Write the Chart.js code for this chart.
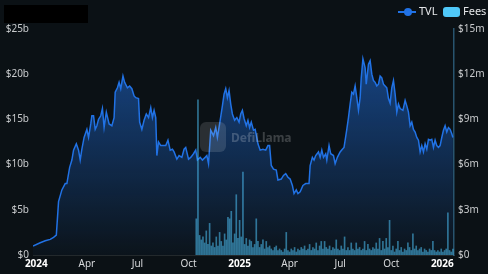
<!DOCTYPE html>
<html>
<head>
<meta charset="utf-8">
<script src="https://cdn.jsdelivr.net/npm/chart.js@4.4.1/dist/chart.umd.min.js"></script>
<style>
  html, body { margin: 0; padding: 0; background: #0b1115; }
  #wrap { position: relative; width: 488px; height: 274px; font-family: 'Noto Sans', sans-serif; }
  #title { position: absolute; left: 4px; top: 5px; width: 84px; height: 18px; background: #000; }
  .lg { position: absolute; }
  .lgtxt { position: absolute; top: 3px; font-size: 11px; color: #e4e6e8; }
  .mark { position: absolute; left: 200px; top: 122px; width: 26px; height: 30px; border-radius: 6px; background: rgba(255,255,255,0.13); }
  .marktxt { position: absolute; left: 231px; top: 129px; font-size: 12px; font-weight: bold; color: rgba(255,255,255,0.2); }
</style>
</head>
<body>
<div id="wrap">
  <canvas id="chart" width="488" height="274"></canvas>
  <div id="title"></div>
  <div class="lg" style="left:398px; top:11px; width:18px; height:2px; background:#2172e5;"></div>
  <div class="lg" style="left:404px; top:8px; width:8px; height:8px; border-radius:50%; background:#2172e5;"></div>
  <div class="lgtxt" style="left:419px;">TVL</div>
  <div class="lg" style="left:443px; top:7px; width:17px; height:10px; border-radius:3px; background:#4fc8f8;"></div>
  <div class="lgtxt" style="left:463px;">Fees</div>
  <div class="mark"></div>
  <div class="marktxt">DefiLlama</div>
</div>
<script>
// dias desde 2024-01-01
const tickDays = [0, 91, 182, 274, 366, 456, 547, 639, 731];
const tickLabels = ['2024', 'Apr', 'Jul', 'Oct', '2025', 'Apr', 'Jul', 'Oct', '2026'];
const yearTicks = [0, 366, 731];

// TVL en miles de millones ($b)
const tvlDays = [-6,7,16,25,31,36,40,46,52,55,60,64,67,72,76,79,82,86,91,94,98,100,103,106,109,112,116,119,122,126,
  131,136,140,142,146,149,152,156,159,164,168,172,176,179,184,186,190,194,198,202,206,209,212,215,217,220,224,229,233,237,
  241,245,248,253,257,262,266,269,274,278,283,287,290,295,299,304,307,310,314,319,323,326,331,335,338,341,344,347,350,353,
  357,361,365,368,371,374,378,381,384,387,391,394,399,403,408,413,417,420,423,427,432,435,441,445,449,453,457,461,464,468,
  471,475,480,485,491,493,497,500,503,508,511,514,517,521,523,527,530,535,538,542,547,551,554,559,562,565,568,571,574,577,
  580,583,585,588,592,594,598,601,604,607,610,613,616,619,622,625,628,631,634,637,640,643,646,649,652,655,660,664,667,670,
  673,676,679,682,685,688,691,694,697,700,703,706,709,712,715,718,721,724,727,730,733,736,739,742,745,748,750];
const tvlValues = [1.0,1.35,1.57,1.73,1.95,2.2,5.9,7.2,7.9,7.9,9.7,10.5,11.6,12.3,11.6,10.5,11.7,13.0,13.9,13.0,14.5,15.4,15.4,13.9,14.3,15.0,15.4,16.2,14.1,15.8,
  14.5,14.3,15.2,18.0,18.5,19.1,18.4,19.8,19.1,18.5,18.7,18.4,17.6,17.4,17.3,14.7,13.9,14.9,15.6,15.2,16.3,15.2,16.0,15.2,11.0,12.5,12.1,12.1,12.1,12.7,
  11.6,11.7,11.4,10.6,11.0,10.8,11.7,11.9,10.6,10.8,11.2,11.6,10.5,10.8,10.5,10.8,11.0,10.1,13.8,13.2,14.1,13.0,14.9,16.5,17.8,18.4,17.4,18.2,16.7,15.6,
  14.9,15.2,14.7,15.6,16.0,15.1,14.3,14.9,14.1,14.7,13.8,13.9,12.3,11.6,11.7,11.6,12.1,12.1,9.9,9.5,9.4,8.3,8.4,8.8,9.0,8.6,8.4,7.7,6.8,7.2,
  6.8,7.0,7.7,7.9,7.9,9.9,10.8,10.5,11.0,11.4,10.8,11.6,10.8,11.2,10.5,12.1,11.2,11.0,10.1,10.8,11.4,11.7,11.9,13.9,15.2,16.7,18.0,17.8,18.7,17.4,
  16.0,17.4,19.6,21.7,20.7,18.9,21.1,21.5,20.0,19.3,19.1,18.7,18.9,19.8,19.6,18.9,18.7,18.5,17.3,16.8,18.5,19.3,17.8,15.8,16.7,16.2,16.0,17.1,16.5,15.8,
  14.3,14.7,13.9,13.6,13.0,12.7,11.4,12.1,11.4,12.3,11.7,12.8,12.7,12.8,11.9,12.7,12.1,11.9,12.1,13.0,13.8,14.3,13.6,14.1,13.9,13.4,13.0];

// Fees en millones ($m), una barra cada 3 dias desde octubre 2024
const feeStartDay = 288;
const feeStepDays = 3;
const feeValues = [2.4,10.3,1.3,1.0,1.2,0.8,1.6,0.7,2.1,0.6,
  0.8,0.5,1.2,0.6,1.5,0.9,0.6,1.4,1.0,2.5,
  2.4,2.9,0.8,1.4,4.0,1.1,2.3,1.2,5.5,0.7,
  1.1,0.6,1.0,0.9,0.5,0.7,2.4,0.9,0.5,0.7,
  1.0,0.4,0.9,0.5,0.6,0.4,0.3,0.5,0.6,0.3,
  0.4,0.3,0.2,0.4,1.5,0.3,0.2,0.4,0.3,0.5,
  0.2,0.4,0.3,0.5,0.4,0.6,0.3,0.4,0.7,0.3,
  0.5,0.4,0.8,0.3,0.6,0.9,0.4,0.9,0.5,0.4,
  0.6,0.3,0.5,0.4,1.0,0.4,0.3,0.6,0.4,1.2,
  0.3,0.5,0.3,0.8,0.4,0.3,0.8,0.4,0.5,0.3,
  0.4,0.9,0.3,0.7,0.4,0.3,0.5,0.4,0.8,0.4,
  1.1,0.3,0.9,0.4,1.1,0.5,2.3,0.3,0.6,0.2,
  0.4,0.9,0.3,0.5,0.2,0.4,0.3,0.8,0.5,0.3,
  1.4,0.4,0.6,0.3,0.4,0.5,0.2,0.4,0.3,0.2,
  0.4,0.3,0.9,0.3,0.2,0.3,0.2,0.4,0.2,0.3,
  0.4,2.8,0.3,0.2,0.4];

const tvlData = tvlDays.map((d, i) => ({ x: d, y: tvlValues[i] }));
const feeData = feeValues.map((v, i) => ({ x: feeStartDay + i * feeStepDays, y: v }));

Chart.defaults.font.family = "'Noto Sans', sans-serif";
Chart.defaults.font.size = 10;

const ctx = document.getElementById('chart').getContext('2d');
const chart = new Chart(ctx, {
  type: 'line',
  data: {
    datasets: [{
      type: 'bar',
      label: 'Fees',
      data: feeData,
      yAxisID: 'y1',
      backgroundColor: 'rgba(79, 195, 247, 0.55)',
      barThickness: 1,
      order: 0
    }, {
      type: 'line',
      label: 'TVL',
      data: tvlData,
      yAxisID: 'y',
      borderColor: '#2172e5',
      borderWidth: 1.5,
      pointRadius: 0,
      tension: 0,
      fill: 'origin',
      backgroundColor: (c) => {
        const area = c.chart.chartArea;
        if (!area) return 'rgba(33,114,229,0.3)';
        const g = c.chart.ctx.createLinearGradient(0, area.top, 0, area.bottom);
        g.addColorStop(0, 'rgba(33,114,229,0.6)');
        g.addColorStop(1, 'rgba(33,114,229,0.03)');
        return g;
      },
      order: 1
    }]
  },
  options: {
    responsive: false,
    animation: false,
    layout: { padding: { top: 29, left: 0, right: 0, bottom: 0 } },
    plugins: {
      legend: { display: false },
      tooltip: { enabled: false }
    },
    scales: {
      x: {
        type: 'linear',
        min: -6,
        max: 752,
        offset: false,
        grid: { display: false, drawTicks: false },
        border: { display: true, color: 'rgba(255,255,255,0.1)' },
        afterBuildTicks: (axis) => { axis.ticks = tickDays.map(v => ({ value: v })); },
        afterFit: (axis) => { axis.height = 19; },
        ticks: {
          padding: 3,
          maxRotation: 0,
          autoSkip: false,
          color: (c) => yearTicks.includes(c.tick.value) ? '#ffffff' : '#d8dadc',
          font: (c) => ({ size: 10, weight: yearTicks.includes(c.tick && c.tick.value) ? 'bold' : 'normal' }),
          callback: (v) => tickLabels[tickDays.indexOf(v)]
        }
      },
      y: {
        position: 'left',
        min: 0,
        max: 25,
        grid: { display: false, drawTicks: false },
        border: { display: false },
        afterFit: (axis) => { axis.width = 33; },
        ticks: {
          stepSize: 5,
          padding: 4,
          color: '#c8cacc',
          callback: (v) => v === 0 ? '$0' : '$' + v + 'b'
        }
      },
      y1: {
        position: 'right',
        min: 0,
        max: 15,
        grid: { display: false, drawTicks: false },
        border: { display: true, color: 'rgba(60,130,170,0.6)', width: 1.5, dash: [2, 4] },
        afterFit: (axis) => { axis.width = 34; },
        ticks: {
          stepSize: 3,
          padding: 4,
          color: '#c8cacc',
          callback: (v) => v === 0 ? '$0' : '$' + v + 'm'
        }
      }
    }
  }
});
</script>
</body>
</html>
